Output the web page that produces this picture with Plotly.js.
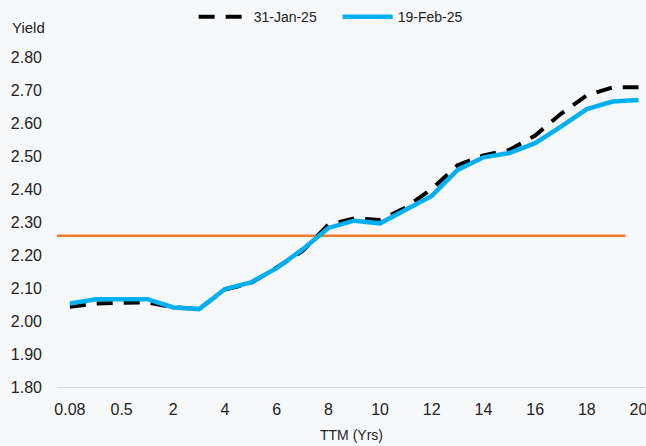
<!DOCTYPE html>
<html>
<head>
<meta charset="utf-8">
<script src="https://cdn.plot.ly/plotly-3.0.1.min.js"></script>
<style>html,body{margin:0;padding:0;background:#f7f8f9;overflow:hidden}</style>
</head>
<body>
<div id="chart" style="width:646px;height:446px"></div>
<script>
// Categories (TTM in years)
const categories = ['0.08','0.25','0.5','1','2','3','4','5','6','7','8','9','10','11','12','13','14','15','16','17','18','19','20'];
// Yield on 31-Jan-25
const jan31 = [2.043,2.053,2.055,2.056,2.042,2.037,2.095,2.115,2.162,2.212,2.292,2.311,2.306,2.344,2.400,2.472,2.502,2.518,2.562,2.628,2.684,2.708,2.708];
// Yield on 19-Feb-25
const feb19 = [2.053,2.066,2.066,2.066,2.041,2.036,2.097,2.117,2.160,2.217,2.282,2.304,2.296,2.336,2.379,2.458,2.496,2.509,2.539,2.589,2.642,2.665,2.670];
// Horizontal reference level
const refLevel = 2.258;
// Tick labels
const xTickLabels = ['0.08','0.5','2','4','6','8','10','12','14','16','18','20'];
const yTickVals = [1.8,1.9,2.0,2.1,2.2,2.3,2.4,2.5,2.6,2.7,2.8];
const yTickText = ['1.80','1.90','2.00','2.10','2.20','2.30','2.40','2.50','2.60','2.70','2.80'];

const FONT = 'Liberation Sans, Arial, sans-serif';

const traces = [
  {x: categories, y: jan31, name: '31-Jan-25', type: 'scatter', mode: 'lines',
   line: {color: '#000000', width: 4, dash: '16px,11px'}},
  {x: categories, y: feb19, name: '19-Feb-25', type: 'scatter', mode: 'lines',
   line: {color: '#00b0f0', width: 4.5}}
];

const layout = {
  width: 646, height: 446,
  margin: {l: 57, r: 0, t: 57, b: 59},
  paper_bgcolor: '#f7f8f9',
  plot_bgcolor: 'rgba(0,0,0,0)',
  font: {family: FONT, color: '#222222', size: 16},
  showlegend: true,
  legend: {orientation: 'h', x: 0.232, xanchor: 'left', y: 1.121, yanchor: 'middle',
           entrywidth: 79, entrywidthmode: 'pixels',
           font: {size: 14, color: '#222222'}, bgcolor: 'rgba(0,0,0,0)', itemwidth: 50},
  xaxis: {type: 'category', range: [-0.5, 22.29], tickmode: 'array', tickvals: xTickLabels, ticktext: xTickLabels,
          showgrid: false, zeroline: false, showline: true, linecolor: '#d9d9d9', linewidth: 1,
          ticks: '', tickfont: {size: 16}, ticklabelstandoff: 8,
          title: {text: 'TTM (Yrs)', font: {size: 14}, standoff: 12}},
  yaxis: {range: [1.8, 2.8], tickmode: 'array', tickvals: yTickVals, ticktext: yTickText,
          showgrid: false, zeroline: false, showline: false, ticks: '', tickfont: {size: 16},
          ticklabelstandoff: 14},
  shapes: [
    {type: 'line', xref: 'x', yref: 'y', x0: -0.7, x1: 21.5, y0: refLevel, y1: refLevel,
     layer: 'below', line: {color: '#ed7d31', width: 2.5}}
  ],
  annotations: [
    {text: 'Yield', xref: 'paper', yref: 'paper', x: -0.08, y: 1.088, xanchor: 'left', yanchor: 'middle',
     showarrow: false, font: {size: 15, color: '#222222'}}
  ]
};

Plotly.newPlot('chart', traces, layout, {displayModeBar: false, staticPlot: true});
</script>
</body>
</html>
